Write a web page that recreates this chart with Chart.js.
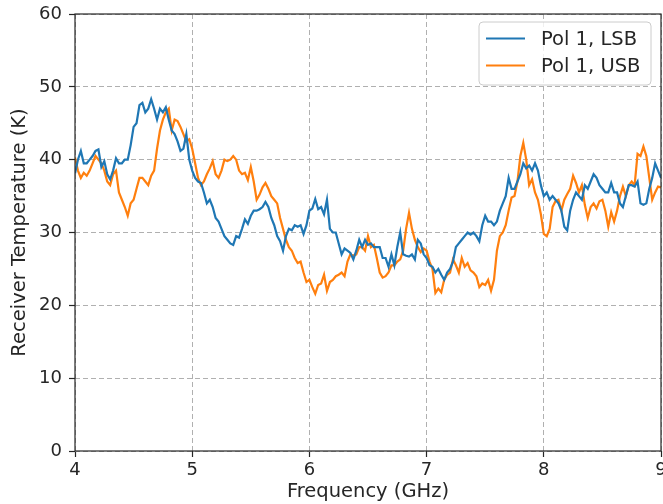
<!DOCTYPE html>
<html>
<head>
<meta charset="utf-8">
<script src="https://cdn.jsdelivr.net/npm/chart.js@4.4.0/dist/chart.umd.min.js"></script>
<style>
  html, body { margin: 0; padding: 0; background: #ffffff; }
  #wrap { width: 663px; height: 504px; }
</style>
</head>
<body>
<div id="wrap"><canvas id="chart" width="663" height="504"></canvas></div>
<script>
// sampling grid: 4 to 9 GHz, 0.025 GHz step
const freqStart = 4;
const freqStep = 0.025;

// receiver temperature (K)
const lsbTemps = [
    38.1, 40, 41.2, 39.5, 39.5, 40, 40.5, 41.2, 41.4, 39, 39.8, 38, 37.3, 38.5, 40.2, 39.5, 39.5, 40, 40, 42,
    44.5, 45, 47.5, 47.8, 46.5, 47, 48.3, 47, 45.5, 47, 46.5, 47.2, 45.5, 44, 43.5, 42.5, 41.2, 41.5, 43.5, 40,
    38.5, 37.5, 37, 36.8, 35.5, 34, 34.5, 33.5, 32, 31.5, 30.5, 29.5, 29, 28.5, 28.3, 29.5, 29.3, 30.5, 31.8, 31.2,
    32.3, 33, 33, 33.2, 33.5, 34.2, 33.5, 32, 31, 29.5, 28.8, 27.5, 29.5, 30.5, 30.3, 31, 30.8, 31, 29.8, 31,
    33, 33.3, 34.6, 33.2, 33.5, 32.5, 34.5, 30.5, 30, 30, 28.5, 27, 27.8, 27.5, 27.2, 26.3, 27.5, 29, 28, 29,
    28.3, 28.5, 28, 28, 28, 26.5, 26.5, 25.3, 27, 25.5, 28, 30, 27, 26.8, 26.7, 27, 26.3, 29, 28.5, 27,
    26.5, 25.5, 25.3, 24.5, 25, 24.2, 23.5, 24.5, 25, 26, 28, 28.5, 29, 29.5, 30, 29.7, 30, 29.5, 28.8, 31,
    32.3, 31.5, 31.5, 31, 31.5, 33, 34, 35, 37.5, 36, 36, 37, 38, 39.5, 38.8, 39.2, 38.5, 39.5, 38.5, 36.5,
    35, 35.5, 34.5, 35, 34.5, 34, 33, 30.8, 30.3, 33, 34.5, 35.5, 35, 34.5, 36.5, 36, 37, 38, 37.5, 36.5,
    36, 35.5, 35.5, 36.8, 35.5, 35.5, 34, 33.5, 35, 36.5, 36.5, 36.3, 37, 34, 33.8, 34, 36, 37.5, 39.5, 38.5,
    37.5
];

const usbTemps = [
    40.3, 38.5, 37.5, 38.2, 37.8, 38.5, 39.5, 40.5, 40, 39.5, 38.5, 37, 36.5, 38, 38.5, 35.5, 34.5, 33.5, 32.3, 34,
    34.5, 36, 37.5, 37.5, 37, 36.5, 37.8, 38.5, 41.5, 44, 45.5, 46.5, 47, 44, 45.5, 45.3, 44.5, 43.5, 42.5, 42.8,
    41.5, 39.5, 37.5, 36.5, 37, 38, 38.8, 39.8, 38, 37.5, 38.5, 40, 39.8, 40, 40.5, 40, 38.5, 38, 38.2, 37.2,
    39, 37, 34.5, 35.2, 36.2, 36.8, 36, 35, 34.5, 34, 32, 30.5, 29, 28, 27.5, 26.5, 25.8, 26, 24.5, 23.2,
    23.5, 22.5, 21.6, 22.8, 23, 24.2, 22, 23.2, 23.5, 24, 24.2, 24.5, 24, 26, 27, 26.8, 27, 28, 28, 27.5,
    29.5, 28, 28.3, 26.5, 24.5, 23.8, 24, 24.5, 25.5, 25.5, 26, 26.3, 27.5, 30.5, 32.7, 30.5, 29, 28, 27.3, 27.8,
    27.5, 26, 25, 21.7, 22.3, 21.8, 23.5, 24.2, 24.5, 26.3, 25.5, 24.5, 26.5, 25.3, 25.8, 24.8, 24.5, 24, 22.5, 23,
    22.8, 23.5, 22, 23.5, 27.5, 29.5, 30, 31, 33, 34.8, 35, 37, 40.5, 42.3, 40, 36.5, 37.3, 35.5, 34.5, 32.5,
    29.8, 29.5, 30.5, 33.5, 34.3, 34.5, 33, 34.5, 35.3, 36, 37.8, 36.8, 35.5, 36.5, 33.8, 32, 33.5, 34, 33.3, 34.3,
    34.5, 33, 30.8, 32.8, 31.5, 33, 35, 36.3, 35, 36.5, 37, 36.5, 40.8, 40.5, 41.8, 40.5, 37.5, 34.5, 35.5, 36.3,
    36.2
];

const seriesLabels = ['Pol 1, LSB', 'Pol 1, USB'];
const xTicks = [4, 5, 6, 7, 8, 9];
const yTicks = [0, 10, 20, 30, 40, 50, 60];

const FONT = "'DejaVu Sans', 'Liberation Sans', sans-serif";
const INK = '#262626';

function toPoints(values) {
    return values.map(function(v, i) {
        return { x: freqStart + i * freqStep, y: v };
    });
}

// matplotlib style frame + legend box inside the axes
const framePlugin = {
    id: 'frame',
    afterDraw: function(chart) {
        const ctx = chart.ctx;
        const a = chart.chartArea;
        ctx.save();
        ctx.strokeStyle = INK;
        ctx.lineWidth = 1.2;
        ctx.strokeRect(a.left, a.top, a.right - a.left, a.bottom - a.top);

        // legend
        const bx = 479, by = 22, bw = 172, bh = 63, r = 4;
        ctx.beginPath();
        ctx.moveTo(bx + r, by);
        ctx.arcTo(bx + bw, by, bx + bw, by + bh, r);
        ctx.arcTo(bx + bw, by + bh, bx, by + bh, r);
        ctx.arcTo(bx, by + bh, bx, by, r);
        ctx.arcTo(bx, by, bx + bw, by, r);
        ctx.closePath();
        ctx.fillStyle = 'rgba(255,255,255,0.8)';
        ctx.fill();
        ctx.strokeStyle = '#cccccc';
        ctx.lineWidth = 1;
        ctx.stroke();

        ctx.font = '19.5px ' + FONT;
        ctx.textBaseline = 'middle';
        ctx.textAlign = 'left';
        chart.data.datasets.forEach(function(ds, i) {
            const y = 38.5 + i * 27;
            ctx.strokeStyle = ds.borderColor;
            ctx.lineWidth = 2.2;
            ctx.beginPath();
            ctx.moveTo(486, y);
            ctx.lineTo(525, y);
            ctx.stroke();
            ctx.fillStyle = INK;
            ctx.fillText(ds.label, 541, y + 1);
        });
        ctx.restore();
    }
};

const ctx = document.getElementById('chart').getContext('2d');
const chart = new Chart(ctx, {
    type: 'line',
    data: {
        datasets: [{
            label: seriesLabels[0],
            data: toPoints(lsbTemps),
            borderColor: '#1f77b4',
            borderWidth: 2.2,
            pointRadius: 0,
            tension: 0,
            fill: false
        }, {
            label: seriesLabels[1],
            data: toPoints(usbTemps),
            borderColor: '#ff7f0e',
            borderWidth: 2.2,
            pointRadius: 0,
            tension: 0,
            fill: false
        }]
    },
    options: {
        responsive: false,
        animation: false,
        layout: { padding: { top: 14, right: 2, left: 0, bottom: 0 } },
        plugins: {
            legend: { display: false },
            tooltip: { enabled: false }
        },
        scales: {
            x: {
                type: 'linear',
                min: 4,
                max: 9,
                afterBuildTicks: function(scale) {
                    scale.ticks = xTicks.map(function(v) { return { value: v }; });
                },
                afterFit: function(scale) {
                    scale.height = 53;
                    scale.paddingLeft = 0;
                    scale.paddingRight = 0;
                },
                ticks: {
                    color: INK,
                    font: { family: FONT, size: 18 },
                    padding: 3,
                    maxRotation: 0,
                    autoSkip: false
                },
                grid: {
                    color: '#b0b0b0',
                    lineWidth: 1,
                    tickColor: INK,
                    tickLength: 6,
                    tickWidth: 1.2,
                    tickBorderDash: []
                },
                border: { display: false, dash: [5, 3] },
                title: {
                    display: true,
                    text: 'Frequency (GHz)',
                    color: INK,
                    font: { family: FONT, size: 19.5 },
                    padding: { top: 0, bottom: 0 }
                }
            },
            y: {
                type: 'linear',
                min: 0,
                max: 60,
                afterBuildTicks: function(scale) {
                    scale.ticks = yTicks.map(function(v) { return { value: v }; });
                },
                afterFit: function(scale) {
                    scale.width = 75;
                    scale.paddingTop = 0;
                    scale.paddingBottom = 0;
                },
                ticks: {
                    color: INK,
                    font: { family: FONT, size: 18 },
                    padding: 7
                },
                grid: {
                    color: '#b0b0b0',
                    lineWidth: 1,
                    tickColor: INK,
                    tickLength: 6,
                    tickWidth: 1.2,
                    tickBorderDash: []
                },
                border: { display: false, dash: [5, 3] },
                title: {
                    display: true,
                    text: 'Receiver Temperature (K)',
                    color: INK,
                    font: { family: FONT, size: 19.5 },
                    padding: { top: 8, bottom: 0 }
                }
            }
        }
    },
    plugins: [framePlugin]
});
</script>
</body>
</html>
